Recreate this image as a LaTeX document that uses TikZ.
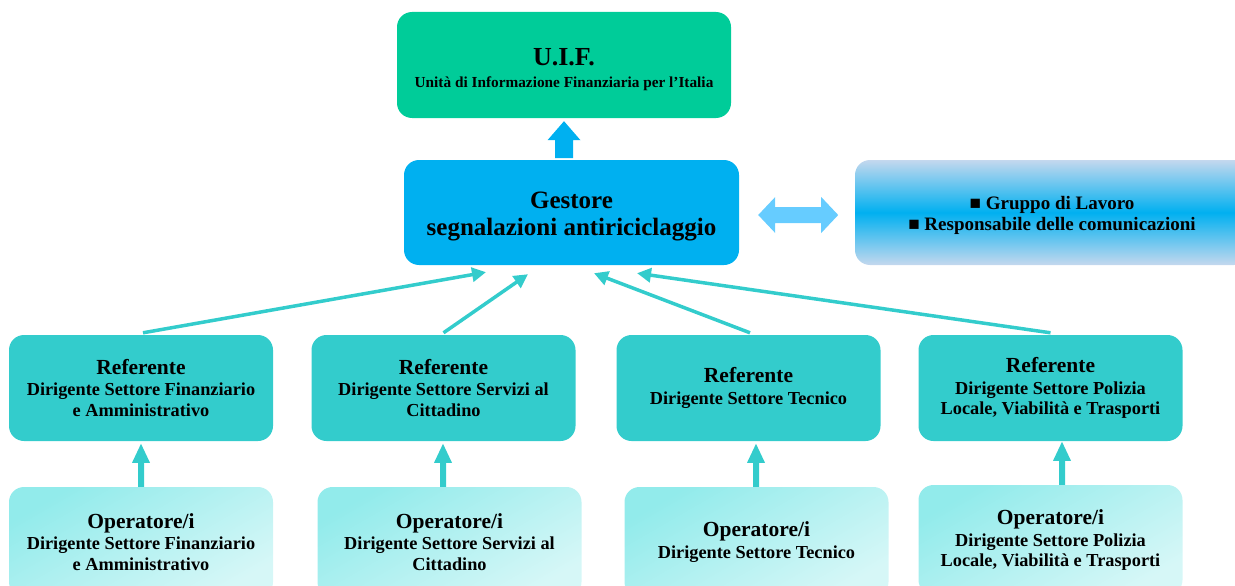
\documentclass[tikz,border=0pt]{standalone}
\usepackage{fontspec}
\setmainfont{Liberation Serif}
\usetikzlibrary{arrows.meta,calc}
\definecolor{uifgreen}{RGB}{0,204,153}
\definecolor{gestblue}{RGB}{0,176,240}
\definecolor{dblarrow}{RGB}{102,204,255}
\definecolor{refteal}{RGB}{51,204,204}
\definecolor{optop}{RGB}{146,235,235}
\definecolor{opbot}{RGB}{214,247,247}
\definecolor{grlight}{RGB}{196,216,238}
\begin{document}
\begin{tikzpicture}[x=1pt,y=-1pt,
  box/.style={rounded corners=15pt, align=center, inner sep=0pt,
    font=\fontsize{18.3}{20.5}\selectfont\bfseries},
  label/.style={align=center, inner sep=0pt},
  refbox/.style={box, fill=refteal, minimum width=264pt, minimum height=106pt},
  opbox/.style={box, top color=optop, bottom color=opbot, shading angle=30,
    minimum width=264pt, minimum height=110pt},
  link/.style={draw=refteal, line width=3.5pt, -{Triangle[length=14pt,width=14pt]}},
  uparrow/.style={fill=refteal}]
\useasboundingbox (0,0) rectangle (1235,586);
\clip (0,0) rectangle (1235,586);

% top level boxes
\node[box, fill=uifgreen, minimum width=334pt, minimum height=106pt] (u) at (564,65) {};
\node[label, font=\fontsize{15.3}{22}\selectfont\bfseries] (ut) at ($(u.center)+(0,5)$)
  {{\fontsize{26}{28}\selectfont U.I.F.}\\
   Unità di Informazione Finanziaria per l’Italia};
\node[box, fill=gestblue, minimum width=335pt, minimum height=105pt] (g) at (571.5,212.5) {};
\node[label, font=\fontsize{25}{27.5}\selectfont\bfseries] (gt) at ($(g.center)+(0,4)$)
  {Gestore\\segnalazioni antiriciclaggio};
\node[box, top color=grlight, bottom color=grlight, middle color=gestblue,
  minimum width=394pt, minimum height=105pt] (w) at (1052,212.5) {};
\node[label, font=\fontsize{19}{20.5}\selectfont\bfseries] (wt) at ($(w.center)+(0,3)$)
  {■ Gruppo di Lavoro\\■ Responsabile delle comunicazioni};

% block arrow to UIF
\fill[gestblue] ($(u.south)+(-9,40)$) -- ++(0,-18) -- ++(-7.5,0) -- ++(16.5,-19)
  -- ++(16.5,19) -- ++(-7.5,0) -- ++(0,18) -- cycle;
% double arrow
\coordinate (dl) at ($(g.east)+(19,2.5)$);
\fill[dblarrow] (dl) -- ++(17,-18) -- ++(0,10) -- ++(46,0) -- ++(0,-10) -- ++(17,18)
  -- ++(-17,18) -- ++(0,-10) -- ++(-46,0) -- ++(0,10) -- cycle;

% referente boxes
\node[refbox] (r1) at (141,388)
  {{\fontsize{21.5}{22}\selectfont Referente}\\[1pt]Dirigente Settore Finanziario\\e Amministrativo};
\node[refbox] (r2) at (443.5,388)
  {{\fontsize{21.5}{22}\selectfont Referente}\\[1pt]Dirigente Settore Servizi al\\Cittadino};
\node[refbox] (r3) at (748.5,388)
  {{\fontsize{21.5}{22}\selectfont Referente}\\[1pt]Dirigente Settore Tecnico};
\node[refbox] (r4) at (1050.5,388)
  {{\fontsize{21.5}{22}\selectfont Referente}\\[1pt]Dirigente Settore Polizia\\Locale, Viabilità e Trasporti};

% operatore boxes
\node[opbox] (o1) at (141,542)
  {{\fontsize{21.5}{22}\selectfont Operatore/i}\\[1pt]Dirigente Settore Finanziario\\e Amministrativo};
\node[opbox] (o2) at (449.5,542)
  {{\fontsize{21.5}{22}\selectfont Operatore/i}\\[1pt]Dirigente Settore Servizi al\\Cittadino};
\node[opbox] (o3) at (756.5,542)
  {{\fontsize{21.5}{22}\selectfont Operatore/i}\\[1pt]Dirigente Settore Tecnico};
\node[opbox] (o4) at (1050.5,540)
  {{\fontsize{21.5}{22}\selectfont Operatore/i}\\[1pt]Dirigente Settore Polizia\\Locale, Viabilità e Trasporti};

% links referente -> gestore
\draw[link] ($(r1.north)+(2,-2)$) -- ($(g.south)+(-85.5,7)$);
\draw[link] ($(r2.north)+(0,-2)$) -- ($(g.south)+(-43.5,9)$);
\draw[link] ($(r3.north)+(1.5,-2)$) -- ($(g.south)+(22.5,8)$);
\draw[link] ($(r4.north)+(0,-2)$) -- ($(g.south)+(65.5,8)$);

% small up arrows operatore -> referente
\foreach \o/\dx in {o1/0, o2/-6.5, o3/-0.5, o4/11.5}{
  \fill[uparrow] ($(\o.north)+(\dx,0)$) ++(-3,0) -- ++(0,-24) -- ++(-6,0) -- ++(9,-19)
    -- ++(9,19) -- ++(-6,0) -- ++(0,24) -- cycle;
}
\end{tikzpicture}
\end{document}
